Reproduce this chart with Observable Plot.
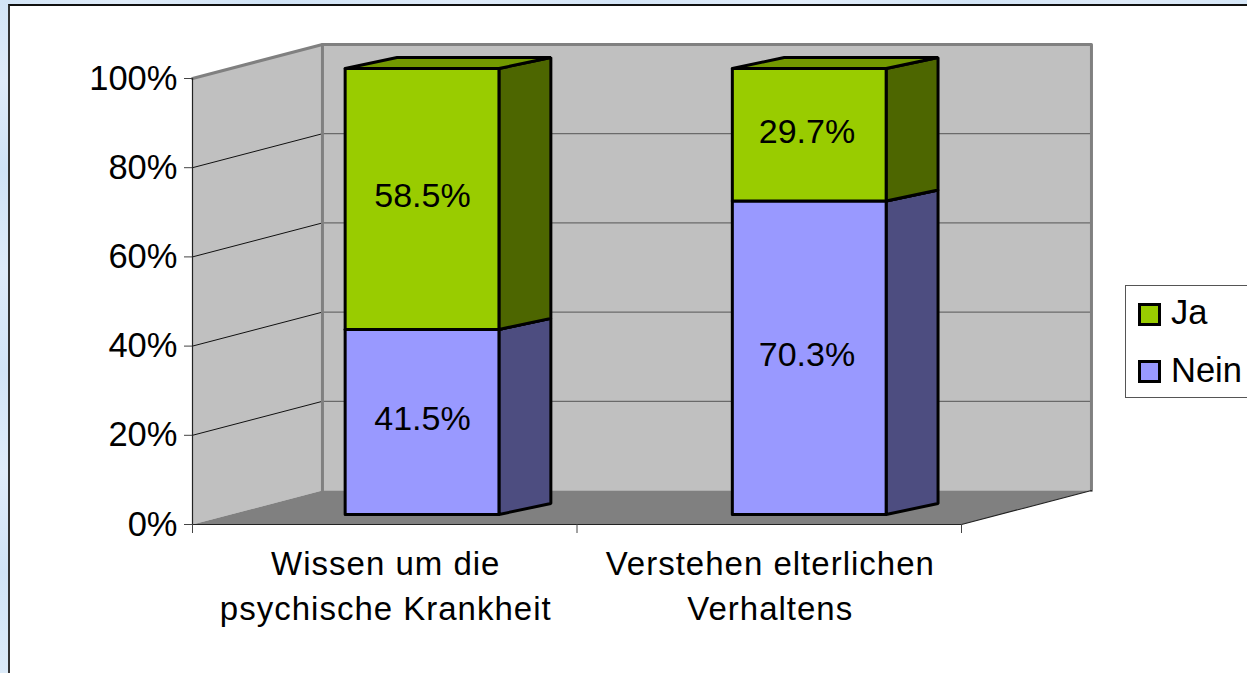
<!DOCTYPE html>
<html><head><meta charset="utf-8">
<script src="https://cdn.jsdelivr.net/npm/d3@7"></script>
<script src="https://cdn.jsdelivr.net/npm/@observablehq/plot@0.6"></script>
<style>
html,body{margin:0;padding:0;width:1247px;height:673px;overflow:hidden;background:#d8e8f8;font-family:"Liberation Sans",Arial,sans-serif}
#bgA{position:absolute;left:0;top:0;width:1247px;height:5px;background:linear-gradient(90deg,#d3e5f7,#e0ecf9 10%,#d0e3f6 22%,#dfebf9 37%,#d4e5f7 50%,#e2edfa 64%,#d2e4f6 78%,#deeaf8 90%,#d6e7f8)}
#bgB{position:absolute;left:0;top:0;width:8px;height:673px;background:linear-gradient(180deg,#d3e5f7,#dfebf9 12%,#cfe2f6 25%,#deebf9 40%,#d2e4f7 55%,#e0ecfa 70%,#d0e3f6 85%,#dcebf9)}
#box{position:absolute;left:8px;top:4px;width:1239px;height:669px;box-sizing:border-box;background:#fff;border-left:2px solid #333;border-top:2px solid #111}
#chart{position:absolute;left:0;top:0}
#chart svg{background:transparent;overflow:visible}
.cat{letter-spacing:1px}
#legend{position:absolute;left:1125px;top:285px;width:130px;height:113px;box-sizing:border-box;background:#fff;border:1.5px solid #555;font-size:34.5px;color:#000}
.key{position:absolute;left:12px;width:23px;height:23px;box-sizing:border-box;border:3px solid #000}
.lab{position:absolute;left:45px;line-height:36px;white-space:nowrap}
</style></head><body>
<div id="bgA"></div><div id="bgB"></div><div id="box"></div>
<div id="chart"></div>
<div id="legend"></div>
<script>
const categories = ["Wissen um die\npsychische Krankheit", "Verstehen elterlichen\nVerhaltens"];
const nein = [41.5, 70.3];
const ja = [58.5, 29.7];
const seriesNames = ["Ja", "Nein"];
const yTicks = [0, 20, 40, 60, 80, 100];

// oblique projection offsets, in data units of the x and y scales
const wallDx = 0.338, wallDy = 7.62;
const barLeft = [0.397, 1.404], barWidth = 0.4;
const barFrontDy = 2.24, barDepthDx = 0.135, barDepthDy = 2.47, labelDx = 0.598;

const poly = (pts, fill, stroke, strokeWidth) =>
  Plot.line([...pts, pts[0]], {x: d => d[0], y: d => d[1], fill, stroke, strokeWidth, curve: "linear", strokeLinejoin: "miter"});
const seg = (pts, stroke, strokeWidth) =>
  Plot.line(pts, {x: d => d[0], y: d => d[1], stroke, strokeWidth});

const marks = [];
// walls and floor
marks.push(poly([[0,0],[0,100],[wallDx,100+wallDy],[wallDx,wallDy]], "#c0c0c0", "none", 0));
marks.push(poly([[wallDx,wallDy],[wallDx,100+wallDy],[2+wallDx,100+wallDy],[2+wallDx,wallDy]], "#c0c0c0", "none", 0));
marks.push(poly([[0,0],[2,0],[2+wallDx,wallDy],[wallDx,wallDy]], "#808080", "none", 0));
// gridlines
for (const v of yTicks.slice(1, -1)) {
  marks.push(seg([[0,v],[wallDx,v+wallDy]], "#111", 1));
  marks.push(seg([[wallDx,v+wallDy],[2+wallDx,v+wallDy]], "#555", 1));
}
// wall edges
marks.push(seg([[0,100],[wallDx,100+wallDy],[2+wallDx,100+wallDy],[2+wallDx,wallDy]], "#808080", 3));
marks.push(seg([[wallDx,100+wallDy],[wallDx,wallDy]], "#808080", 3));
marks.push(seg([[0,0],[0,100]], "#222", 1.2));
marks.push(seg([[0,0],[2,0],[2+wallDx,wallDy]], "#222", 1.2));
// axes
marks.push(Plot.axisY({ticks: yTicks, tickFormat: d => d + "%", tickSize: 8, tickPadding: 7, fontSize: 34.5, anchor: "left", label: null, stroke: "#444", color: "#000"}));
marks.push(Plot.axisX({ticks: [0, 1, 2], tickFormat: () => "", tickSize: 9, label: null, stroke: "#444"}));
marks.push(Plot.text(categories, {x: (d, i) => i + 0.5, y: 0, text: d => d, dx: 1, dy: 18, fontSize: 33, lineHeight: 1.37, lineAnchor: "top", fill: "#000", className: "cat"}));
// bars
const colours = {ja: ["#99cc00", "#4d6600", "#739900"], nein: ["#9999ff", "#4d4d80", "#7373bf"]};
function box(i, y0, y1, c) {
  const l = barLeft[i], r = l + barWidth;
  const f0 = y0 + barFrontDy, f1 = y1 + barFrontDy;
  const dx = barDepthDx, dy = barDepthDy, sw = 3;
  marks.push(poly([[r,f0],[r,f1],[r+dx,f1+dy],[r+dx,f0+dy]], c[1], "#000", sw));
  marks.push(poly([[l,f1],[r,f1],[r+dx,f1+dy],[l+dx,f1+dy]], c[2], "#000", sw));
  marks.push(poly([[l,f0],[r,f0],[r,f1],[l,f1]], c[0], "#000", sw));
}
categories.forEach((_, i) => {
  box(i, 0, nein[i], colours.nein);
  box(i, nein[i], nein[i] + ja[i], colours.ja);
});
const barLabels = categories.flatMap((_, i) => [
  {x: i + labelDx, y: nein[i] / 2 + barFrontDy, v: nein[i]},
  {x: i + labelDx, y: nein[i] + ja[i] / 2 + barFrontDy, v: ja[i]}
]);
marks.push(Plot.text(barLabels, {x: "x", y: "y", text: d => d.v.toFixed(1) + "%", fontSize: 34, dy: -3, fill: "#000"}));

const chart = Plot.plot({
  width: 1247, height: 673,
  marginLeft: 192, marginRight: 286, marginTop: 78, marginBottom: 149,
  style: {fontFamily: '"Liberation Sans", Arial, sans-serif', background: "transparent"},
  x: {domain: [0, 2], axis: null},
  y: {domain: [0, 100], axis: null},
  marks
});
document.getElementById("chart").append(chart);

const lg = document.getElementById("legend");
seriesNames.forEach((n, i) => {
  const k = document.createElement("div"); k.className = "key";
  k.style.top = (17 + i * 57) + "px";
  k.style.background = i === 0 ? "#99cc00" : "#9999ff";
  const t = document.createElement("div"); t.className = "lab";
  t.style.top = (8 + i * 57.5) + "px"; t.textContent = n;
  lg.append(k, t);
});
</script></body></html>
